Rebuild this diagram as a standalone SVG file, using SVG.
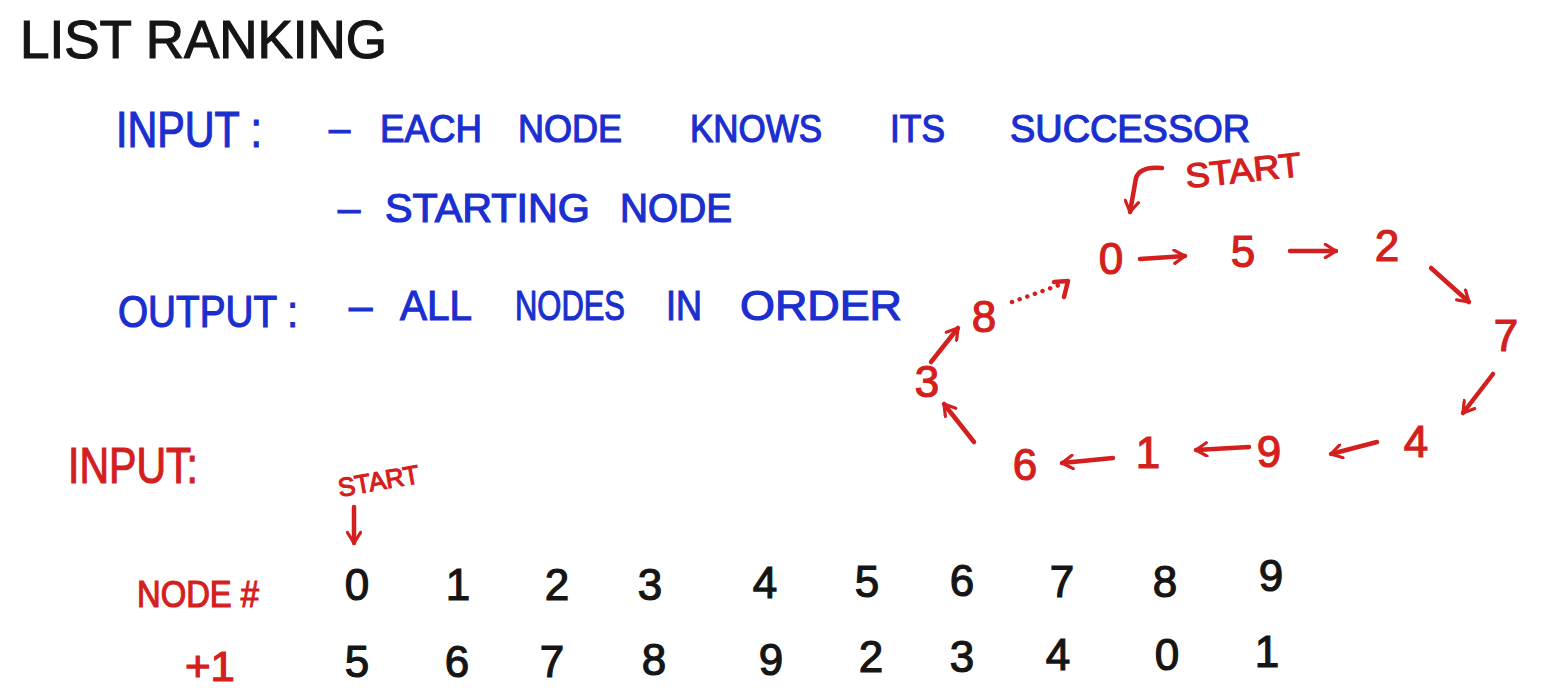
<svg xmlns="http://www.w3.org/2000/svg" width="1546" height="690" viewBox="0 0 1546 690">
<defs>
<style>
.t{font-family:"Liberation Sans","DejaVu Sans",sans-serif;}
.blk{fill:#151515;stroke:#151515;stroke-width:1.2}
.blu{fill:#1b2fcf;stroke:#1b2fcf;stroke-width:1.2}
.red{fill:#d41f1f;stroke:#d41f1f;stroke-width:1.2}
.dig{font-size:44px;text-anchor:middle}
.node{font-size:44px;text-anchor:middle}
.edge{fill:none;stroke:#d41f1f;stroke-width:4.5;stroke-linecap:round;stroke-linejoin:round}
</style>
<marker id="ah" viewBox="0 0 12 12" refX="10" refY="6" markerWidth="16" markerHeight="16" markerUnits="userSpaceOnUse" orient="auto">
<path d="M2,1 L10,6 L2,11" fill="none" stroke="#d41f1f" stroke-width="2.4" stroke-linecap="round" stroke-linejoin="round"/>
</marker>
</defs>
<rect width="1546" height="690" fill="#ffffff"/>

<g id="title"><text class="t blk" x="20" y="58" font-size="54" textLength="367" lengthAdjust="spacingAndGlyphs">LIST RANKING</text></g>

<g id="spec">
<text class="t blu" x="116" y="147" font-size="50" textLength="146" lengthAdjust="spacingAndGlyphs">INPUT :</text>
<text class="t blu" font-size="38" y="142"><tspan x="329">–</tspan><tspan x="380" textLength="102" lengthAdjust="spacingAndGlyphs">EACH</tspan><tspan x="518" textLength="104" lengthAdjust="spacingAndGlyphs">NODE</tspan><tspan x="690" textLength="132" lengthAdjust="spacingAndGlyphs">KNOWS</tspan><tspan x="890" textLength="55" lengthAdjust="spacingAndGlyphs">ITS</tspan><tspan x="1010" textLength="240" lengthAdjust="spacingAndGlyphs">SUCCESSOR</tspan></text>
<text class="t blu" font-size="40" y="222"><tspan x="338">–</tspan><tspan x="385" textLength="205" lengthAdjust="spacingAndGlyphs">STARTING</tspan><tspan x="620" textLength="112" lengthAdjust="spacingAndGlyphs">NODE</tspan></text>
<text class="t blu" x="118" y="327" font-size="44" textLength="180" lengthAdjust="spacingAndGlyphs">OUTPUT :</text>
<text class="t blu" font-size="42" y="320"><tspan x="349">–</tspan><tspan x="400" textLength="72" lengthAdjust="spacingAndGlyphs">ALL</tspan><tspan x="515" textLength="110" lengthAdjust="spacingAndGlyphs">NODES</tspan><tspan x="666" textLength="36" lengthAdjust="spacingAndGlyphs">IN</tspan><tspan x="740" textLength="162" lengthAdjust="spacingAndGlyphs">ORDER</tspan></text>
</g>

<g id="start-label-top"><text class="t red" x="1185" y="182" font-size="34" textLength="116" lengthAdjust="spacingAndGlyphs" transform="rotate(-6 1243 168)">START</text></g>

<g id="n0"><text class="t red node" x="1111" y="274">0</text></g>
<g id="n5"><text class="t red node" x="1243" y="267">5</text></g>
<g id="n2"><text class="t red node" x="1387" y="261">2</text></g>
<g id="n7"><text class="t red node" x="1506" y="351">7</text></g>
<g id="n4"><text class="t red node" x="1416" y="457">4</text></g>
<g id="n9"><text class="t red node" x="1269" y="467">9</text></g>
<g id="n1"><text class="t red node" x="1148" y="468">1</text></g>
<g id="n6"><text class="t red node" x="1025" y="480">6</text></g>
<g id="n3"><text class="t red node" x="927" y="397">3</text></g>
<g id="n8"><text class="t red node" x="984" y="332">8</text></g>

<g id="connectors">
<path class="edge" d="M1162,168 Q1140,166 1136,178 L1130,212" marker-end="url(#ah)"/>
<path class="edge" d="M1140,259 L1185,256" marker-end="url(#ah)"/>
<path class="edge" d="M1290,251 L1336,251" marker-end="url(#ah)"/>
<path class="edge" d="M1431,268 L1469,302" marker-end="url(#ah)"/>
<path class="edge" d="M1493,374 L1463,413" marker-end="url(#ah)"/>
<path class="edge" d="M1377,442 L1331,454" marker-end="url(#ah)"/>
<path class="edge" d="M1249,447 L1196,450" marker-end="url(#ah)"/>
<path class="edge" d="M1113,458 L1062,463" marker-end="url(#ah)"/>
<path class="edge" d="M974,442 L944,404" marker-end="url(#ah)"/>
<path class="edge" d="M931,362 L958,328" marker-end="url(#ah)"/>
<path class="edge" d="M1012,302 L1062,284" stroke-dasharray="0.1 8" stroke-width="4"/>
<path class="edge" d="M1054,282 L1068,281 L1064,297"/>
<path class="edge" d="M354,507 L354,543" marker-end="url(#ah)"/>
</g>

<g id="table">
<text class="t red" x="68" y="483" font-size="50" textLength="130" lengthAdjust="spacingAndGlyphs">INPUT:</text>
<text class="t red" x="337" y="490" font-size="26" textLength="82" lengthAdjust="spacingAndGlyphs" transform="rotate(-10 378 478)">START</text>
<text class="t red" x="137" y="607" font-size="36" textLength="122" lengthAdjust="spacingAndGlyphs">NODE #</text>
<text class="t red" x="185" y="681" font-size="42" textLength="50" lengthAdjust="spacingAndGlyphs">+1</text>
<g id="row-node">
<text class="t blk dig" x="357" y="600">0</text>
<text class="t blk dig" x="458" y="600">1</text>
<text class="t blk dig" x="557" y="600">2</text>
<text class="t blk dig" x="650" y="600">3</text>
<text class="t blk dig" x="765" y="598">4</text>
<text class="t blk dig" x="867" y="597">5</text>
<text class="t blk dig" x="962" y="596">6</text>
<text class="t blk dig" x="1062" y="597">7</text>
<text class="t blk dig" x="1165" y="597">8</text>
<text class="t blk dig" x="1271" y="591">9</text>
</g>
<g id="row-next">
<text class="t blk dig" x="357" y="677">5</text>
<text class="t blk dig" x="457" y="677">6</text>
<text class="t blk dig" x="552" y="677">7</text>
<text class="t blk dig" x="654" y="675">8</text>
<text class="t blk dig" x="771" y="675">9</text>
<text class="t blk dig" x="871" y="672">2</text>
<text class="t blk dig" x="962" y="672">3</text>
<text class="t blk dig" x="1058" y="670">4</text>
<text class="t blk dig" x="1167" y="670">0</text>
<text class="t blk dig" x="1267" y="667">1</text>
</g>
</g>
</svg>
